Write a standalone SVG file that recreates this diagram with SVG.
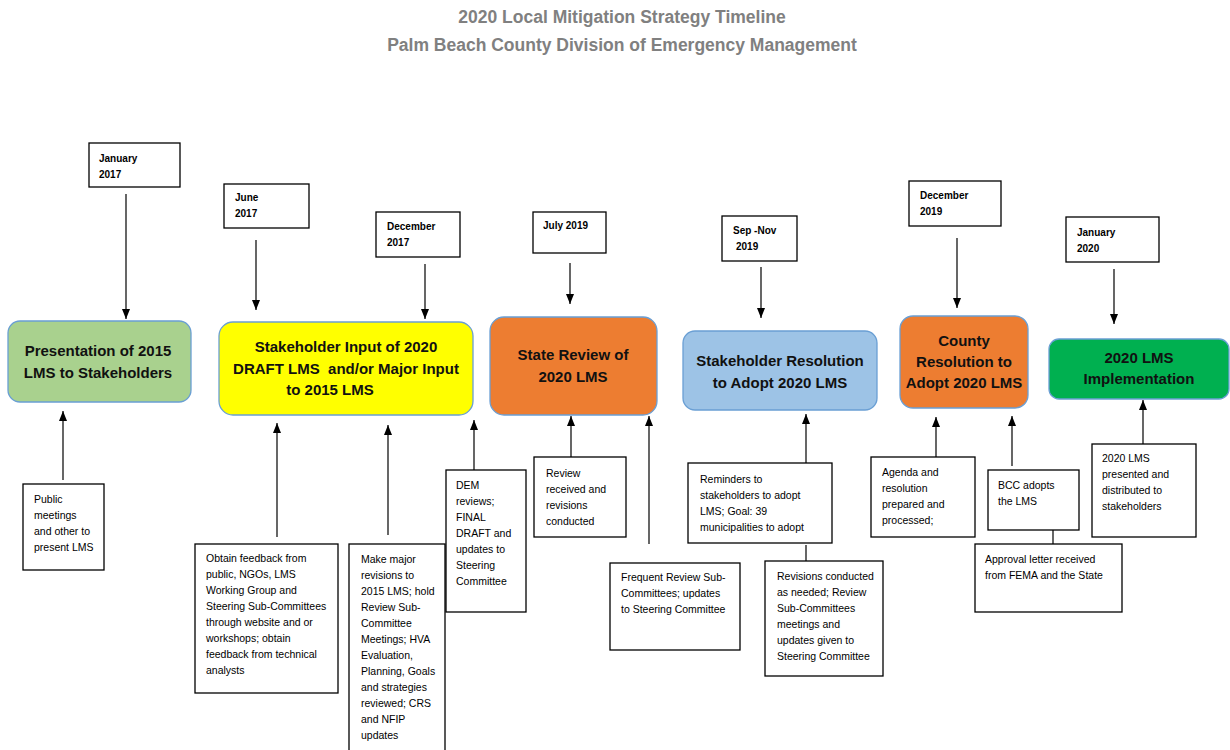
<svg xmlns="http://www.w3.org/2000/svg" width="1230" height="750" viewBox="0 0 1230 750">
<style>
.title{font-family:"Liberation Sans",Arial,sans-serif;font-weight:bold;font-size:17.5px;fill:#808080;text-anchor:middle}
.node rect{stroke:#6a9fd4;stroke-width:1.3}
.nt{font-family:"Liberation Sans",Arial,sans-serif;font-weight:bold;font-size:15px;fill:#111;text-anchor:middle}
.date rect,.note rect{fill:#fff;stroke:#000;stroke-width:1.3}
.dt{font-family:"Liberation Sans",Arial,sans-serif;font-weight:bold;font-size:10px;fill:#000}
.bt{font-family:"Liberation Sans",Arial,sans-serif;font-size:10.5px;fill:#000}
.c line{stroke:#000;stroke-width:1.2}
.a{marker-end:url(#ah)}
</style>
<defs>
<marker id="ah" markerUnits="userSpaceOnUse" markerWidth="10" markerHeight="10" viewBox="0 0 10 10" refX="10" refY="5" orient="auto">
<path d="M0,1 L10,5 L0,9 Z" fill="#000"/>
</marker>
</defs>
<rect width="1230" height="750" fill="#fff"/>
<g id="title">
<text class="title" x="622" y="23">2020 Local Mitigation Strategy Timeline</text>
<text class="title" x="622" y="51">Palm Beach County Division of Emergency Management</text>
</g>

<g id="node-presentation" class="node">
<rect x="8" y="321" width="183" height="81" rx="12" fill="#a9d18e"/>
<text class="nt" x="98" y="356">Presentation of 2015</text>
<text class="nt" x="98" y="378">LMS to Stakeholders</text>
</g>
<g id="node-stakeholder-input" class="node">
<rect x="219" y="322" width="254" height="93" rx="14" fill="#ffff00"/>
<text class="nt" x="346" y="352">Stakeholder Input of 2020</text>
<text class="nt" x="346" y="374" xml:space="preserve">DRAFT LMS  and/or Major Input</text>
<text class="nt" x="330" y="395">to 2015 LMS</text>
</g>
<g id="node-state-review" class="node">
<rect x="490" y="317" width="167" height="98" rx="14" fill="#ed7d31"/>
<text class="nt" x="573" y="360">State Review of</text>
<text class="nt" x="573" y="382">2020 LMS</text>
</g>
<g id="node-stakeholder-resolution" class="node">
<rect x="683" y="331" width="194" height="79" rx="12" fill="#9dc3e6"/>
<text class="nt" x="780" y="366">Stakeholder Resolution</text>
<text class="nt" x="780" y="388">to Adopt 2020 LMS</text>
</g>
<g id="node-county-resolution" class="node">
<rect x="900" y="316" width="128" height="92" rx="13" fill="#ed7d31"/>
<text class="nt" x="964" y="346">County</text>
<text class="nt" x="964" y="367">Resolution to</text>
<text class="nt" x="964" y="388">Adopt 2020 LMS</text>
</g>
<g id="node-implementation" class="node">
<rect x="1049" y="339" width="180" height="60" rx="10" fill="#00b050"/>
<text class="nt" x="1139" y="363">2020 LMS</text>
<text class="nt" x="1139" y="384">Implementation</text>
</g>

<g id="date-jan-2017" class="date">
<rect x="89" y="143" width="91" height="44"/>
<text class="dt" x="99" y="162">January</text>
<text class="dt" x="99" y="178">2017</text>
</g>
<g id="date-jun-2017" class="date">
<rect x="224" y="184" width="85" height="44"/>
<text class="dt" x="235" y="201">June</text>
<text class="dt" x="235" y="217">2017</text>
</g>
<g id="date-dec-2017" class="date">
<rect x="376" y="212" width="84" height="45"/>
<text class="dt" x="387" y="230">December</text>
<text class="dt" x="387" y="246">2017</text>
</g>
<g id="date-jul-2019" class="date">
<rect x="533" y="212" width="73" height="41"/>
<text class="dt" x="543" y="229">July 2019</text>
</g>
<g id="date-sep-nov-2019" class="date">
<rect x="722" y="216" width="75" height="45"/>
<text class="dt" x="733" y="234">Sep -Nov</text>
<text class="dt" x="736" y="250">2019</text>
</g>
<g id="date-dec-2019" class="date">
<rect x="909" y="181" width="92" height="45"/>
<text class="dt" x="920" y="199">December</text>
<text class="dt" x="920" y="215">2019</text>
</g>
<g id="date-jan-2020" class="date">
<rect x="1066" y="217" width="93" height="45"/>
<text class="dt" x="1077" y="236">January</text>
<text class="dt" x="1077" y="252">2020</text>
</g>

<g id="note-public-meetings" class="note">
<rect x="23" y="484" width="81" height="86"/>
<text class="bt" x="34" y="503">Public</text>
<text class="bt" x="34" y="519">meetings</text>
<text class="bt" x="34" y="535">and other to</text>
<text class="bt" x="34" y="551">present LMS</text>
</g>
<g id="note-obtain-feedback" class="note">
<rect x="195" y="544" width="143" height="149"/>
<text class="bt" x="206" y="562">Obtain feedback from</text>
<text class="bt" x="206" y="578">public, NGOs, LMS</text>
<text class="bt" x="206" y="594">Working Group and</text>
<text class="bt" x="206" y="610">Steering Sub-Committees</text>
<text class="bt" x="206" y="626">through website and or</text>
<text class="bt" x="206" y="642">workshops; obtain</text>
<text class="bt" x="206" y="658">feedback from technical</text>
<text class="bt" x="206" y="674">analysts</text>
</g>
<g id="note-major-revisions" class="note">
<rect x="349" y="544" width="96" height="220"/>
<text class="bt" x="361" y="563">Make major</text>
<text class="bt" x="361" y="579">revisions to</text>
<text class="bt" x="361" y="595">2015 LMS; hold</text>
<text class="bt" x="361" y="611">Review Sub-</text>
<text class="bt" x="361" y="627">Committee</text>
<text class="bt" x="361" y="643">Meetings; HVA</text>
<text class="bt" x="361" y="659">Evaluation,</text>
<text class="bt" x="361" y="675">Planning, Goals</text>
<text class="bt" x="361" y="691">and strategies</text>
<text class="bt" x="361" y="707">reviewed; CRS</text>
<text class="bt" x="361" y="723">and NFIP</text>
<text class="bt" x="361" y="739">updates</text>
</g>
<g id="note-dem-reviews" class="note">
<rect x="446" y="470" width="80" height="142"/>
<text class="bt" x="456" y="489">DEM</text>
<text class="bt" x="456" y="505">reviews;</text>
<text class="bt" x="456" y="521">FINAL</text>
<text class="bt" x="456" y="537">DRAFT and</text>
<text class="bt" x="456" y="553">updates to</text>
<text class="bt" x="456" y="569">Steering</text>
<text class="bt" x="456" y="585">Committee</text>
</g>
<g id="note-review-received" class="note">
<rect x="534" y="457" width="92" height="80"/>
<text class="bt" x="546" y="477">Review</text>
<text class="bt" x="546" y="493">received and</text>
<text class="bt" x="546" y="509">revisions</text>
<text class="bt" x="546" y="525">conducted</text>
</g>
<g id="note-frequent-review" class="note">
<rect x="610" y="563" width="130" height="87"/>
<text class="bt" x="621" y="581">Frequent Review Sub-</text>
<text class="bt" x="621" y="597">Committees; updates</text>
<text class="bt" x="621" y="613">to Steering Committee</text>
</g>
<g id="note-reminders" class="note">
<rect x="688" y="463" width="144" height="80"/>
<text class="bt" x="700" y="483">Reminders to</text>
<text class="bt" x="700" y="499">stakeholders to adopt</text>
<text class="bt" x="700" y="515">LMS; Goal: 39</text>
<text class="bt" x="700" y="531">municipalities to adopt</text>
</g>
<g id="note-revisions-conducted" class="note">
<rect x="765" y="561" width="118" height="115"/>
<text class="bt" x="777" y="580">Revisions conducted</text>
<text class="bt" x="777" y="596">as needed; Review</text>
<text class="bt" x="777" y="612">Sub-Committees</text>
<text class="bt" x="777" y="628">meetings and</text>
<text class="bt" x="777" y="644">updates given to</text>
<text class="bt" x="777" y="660">Steering Committee</text>
</g>
<g id="note-agenda" class="note">
<rect x="871" y="457" width="104" height="80"/>
<text class="bt" x="882" y="476">Agenda and</text>
<text class="bt" x="882" y="492">resolution</text>
<text class="bt" x="882" y="508">prepared and</text>
<text class="bt" x="882" y="524">processed;</text>
</g>
<g id="note-bcc" class="note">
<rect x="988" y="470" width="91" height="60"/>
<text class="bt" x="998" y="489">BCC adopts</text>
<text class="bt" x="998" y="505">the LMS</text>
</g>
<g id="note-approval" class="note">
<rect x="975" y="544" width="147" height="68"/>
<text class="bt" x="985" y="563">Approval letter received</text>
<text class="bt" x="985" y="579">from FEMA and the State</text>
</g>
<g id="note-presented" class="note">
<rect x="1092" y="444" width="104" height="93"/>
<text class="bt" x="1102" y="462">2020 LMS</text>
<text class="bt" x="1102" y="478">presented and</text>
<text class="bt" x="1102" y="494">distributed to</text>
<text class="bt" x="1102" y="510">stakeholders</text>
</g>

<g id="connectors" class="c">
<line class="a" x1="126" y1="194" x2="126" y2="319"/>
<line class="a" x1="256" y1="240" x2="256" y2="310"/>
<line class="a" x1="425" y1="264" x2="425" y2="319"/>
<line class="a" x1="570" y1="263" x2="570" y2="304"/>
<line class="a" x1="761" y1="267" x2="761" y2="318"/>
<line class="a" x1="957" y1="238" x2="957" y2="308"/>
<line class="a" x1="1114" y1="269" x2="1114" y2="324"/>

<line class="a" x1="63" y1="480" x2="63" y2="411"/>
<line class="a" x1="277" y1="537" x2="277" y2="423"/>
<line class="a" x1="388" y1="535" x2="388" y2="425"/>
<line class="a" x1="474" y1="470" x2="474" y2="420"/>
<line class="a" x1="571" y1="457" x2="571" y2="416"/>
<line class="a" x1="649" y1="544" x2="649" y2="416"/>
<line class="a" x1="806" y1="463" x2="806" y2="414"/>
<line x1="806" y1="545" x2="806" y2="561"/>
<line class="a" x1="936" y1="457" x2="936" y2="417"/>
<line class="a" x1="1012" y1="466" x2="1012" y2="416"/>
<line x1="1053" y1="530" x2="1053" y2="544"/>
<line class="a" x1="1143" y1="444" x2="1143" y2="400"/>
</g>
</svg>
